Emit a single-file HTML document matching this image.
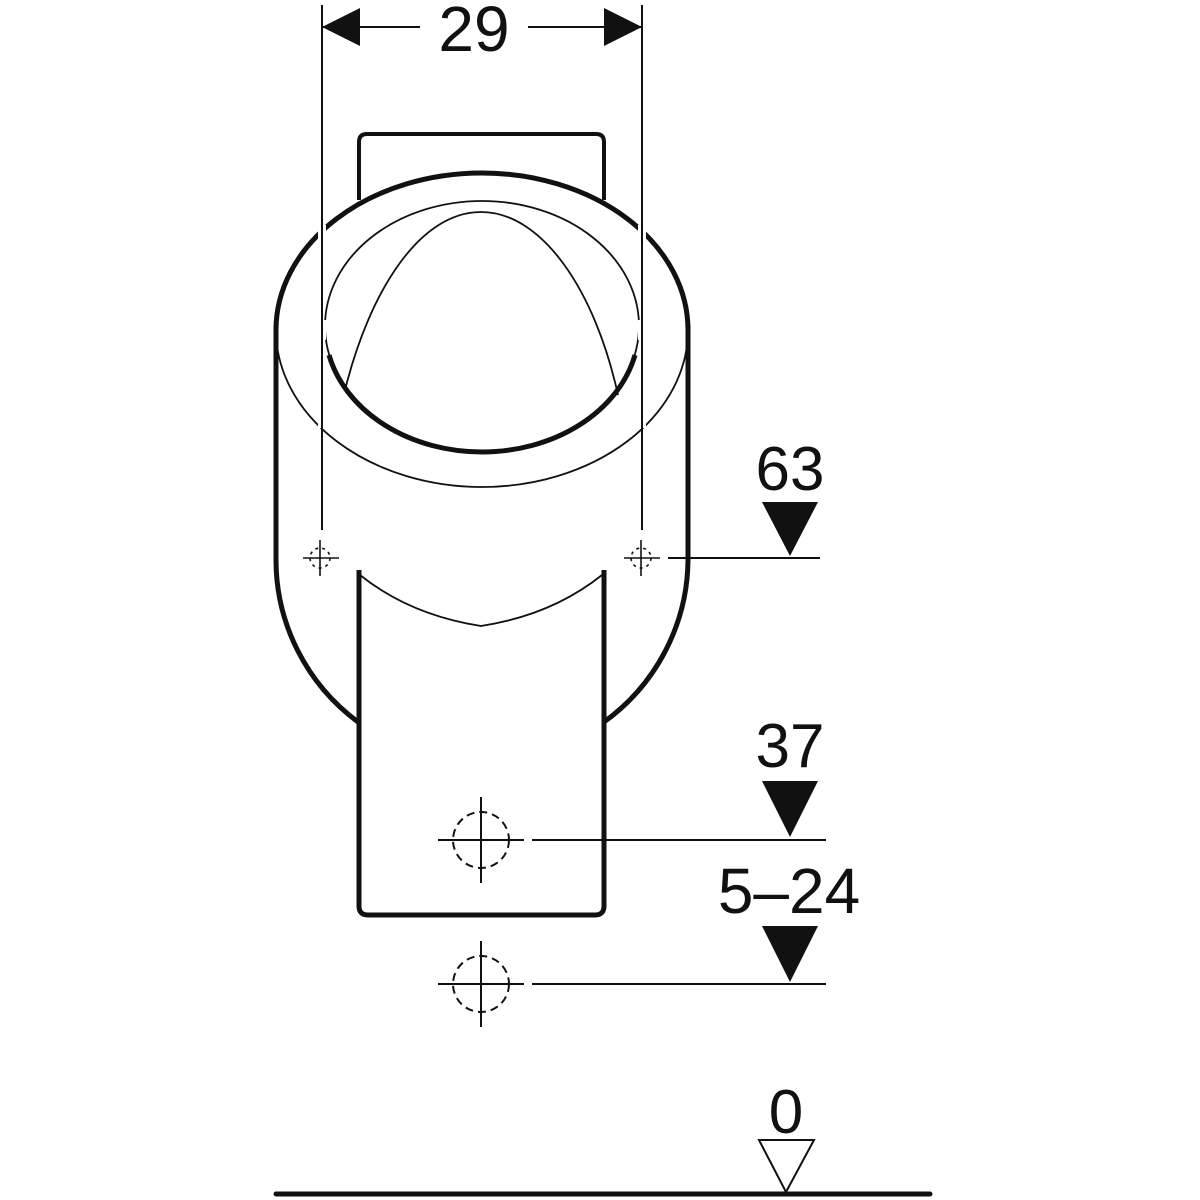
<!DOCTYPE html>
<html><head><meta charset="utf-8"><style>html,body{margin:0;padding:0;background:#fff}svg{display:block}</style></head>
<body>
<svg width="1200" height="1200" viewBox="0 0 1200 1200" xmlns="http://www.w3.org/2000/svg" font-family="Liberation Sans, sans-serif" fill="none" stroke="#111">
<!-- back plate top -->
<path d="M359 200 V142 Q359 134 367 134 H596 Q604 134 604 142 V200" stroke-width="4"/>
<!-- outer body: thick top arc -->
<path d="M276 330 A206 157 0 0 1 688 330" stroke-width="5"/>
<!-- sides -->
<path d="M276 325 V560" stroke-width="5"/>
<path d="M688 325 V560" stroke-width="5"/>
<!-- bottom arcs -->
<path d="M276 560 A206 203 0 0 0 358 722" stroke-width="5"/>
<path d="M688 560 A206 203 0 0 1 604 722" stroke-width="5"/>
<!-- thin outer ring bottom half -->
<path d="M276 330 A206 157 0 0 0 688 330" stroke-width="1.8"/>
<!-- inner ellipse -->
<ellipse cx="482" cy="326" rx="157" ry="125" stroke-width="1.8"/>
<path d="M329 355 A157 125 0 0 0 635 355" stroke-width="5"/>
<!-- dome -->
<path d="M345 390 C370 290 420 212 481 212 C542 212 595 290 618 395" stroke-width="1.8"/>
<!-- front pipe -->
<path d="M359 570 V906 Q359 915 368 915 H595 Q604 915 604 906 V570" stroke-width="5" fill="#fff"/>
<path d="M360 575 Q410 615 481 626 Q552 615 602 575" stroke-width="1.8"/>
<!-- vertical dim lines gaps -->
<g stroke="#fff" stroke-width="8">
<line x1="322" y1="225" x2="322" y2="240"/><line x1="642" y1="225" x2="642" y2="240"/>
<line x1="322" y1="320" x2="322" y2="340"/><line x1="642" y1="320" x2="642" y2="340"/>
<line x1="322" y1="418" x2="322" y2="428"/><line x1="642" y1="418" x2="642" y2="428"/>
</g>
<line x1="322" y1="5" x2="322" y2="530" stroke-width="2"/>
<line x1="642" y1="5" x2="642" y2="530" stroke-width="2"/>
<!-- top dimension -->
<line x1="322" y1="27" x2="420" y2="27" stroke-width="2"/>
<line x1="528" y1="27" x2="642" y2="27" stroke-width="2"/>
<polygon points="322,27 360,8 360,46" fill="#111" stroke="none"/>
<polygon points="642,27 604,8 604,46" fill="#111" stroke="none"/>
<text x="474" y="51" font-size="64" text-anchor="middle" fill="#111" stroke="none">29</text>
<!-- small crosshairs -->
<g stroke-width="1.6">
<line x1="303" y1="558" x2="339" y2="558"/><line x1="320" y1="540" x2="320" y2="576"/>
<circle cx="320" cy="558" r="10" stroke-dasharray="3 4"/>
<line x1="624" y1="558" x2="660" y2="558"/><line x1="641" y1="540" x2="641" y2="576"/>
<circle cx="641" cy="558" r="10" stroke-dasharray="3 4"/>
</g>
<line x1="668" y1="558" x2="820" y2="558" stroke-width="2"/>
<!-- dashed holes -->
<g stroke-width="2">
<circle cx="481" cy="840" r="28" stroke-dasharray="8 5"/>
<line x1="438" y1="840" x2="524" y2="840"/><line x1="481" y1="797" x2="481" y2="883"/>
<line x1="532" y1="840" x2="826" y2="840"/>
<circle cx="481" cy="984" r="28" stroke-dasharray="8 5"/>
<line x1="438" y1="984" x2="524" y2="984"/><line x1="481" y1="941" x2="481" y2="1027"/>
<line x1="532" y1="984" x2="826" y2="984"/>
</g>
<!-- level markers -->
<g fill="#111" stroke="none">
<polygon points="762,502 818,502 790,556"/>
<text x="790" y="490" font-size="62" text-anchor="middle">63</text>
<polygon points="762,781 818,781 790,837"/>
<text x="790" y="767" font-size="62" text-anchor="middle">37</text>
<polygon points="762,926 818,926 790,982"/>
<text x="789" y="913" font-size="64" text-anchor="middle">5–24</text>
<text x="786" y="1133" font-size="62" text-anchor="middle">0</text>
</g>
<polygon points="759,1140 814,1140 786,1192" stroke-width="2" fill="#fff"/>
<line x1="276" y1="1194" x2="930" y2="1194" stroke-width="5" stroke-linecap="round"/>
</svg>
</body></html>
